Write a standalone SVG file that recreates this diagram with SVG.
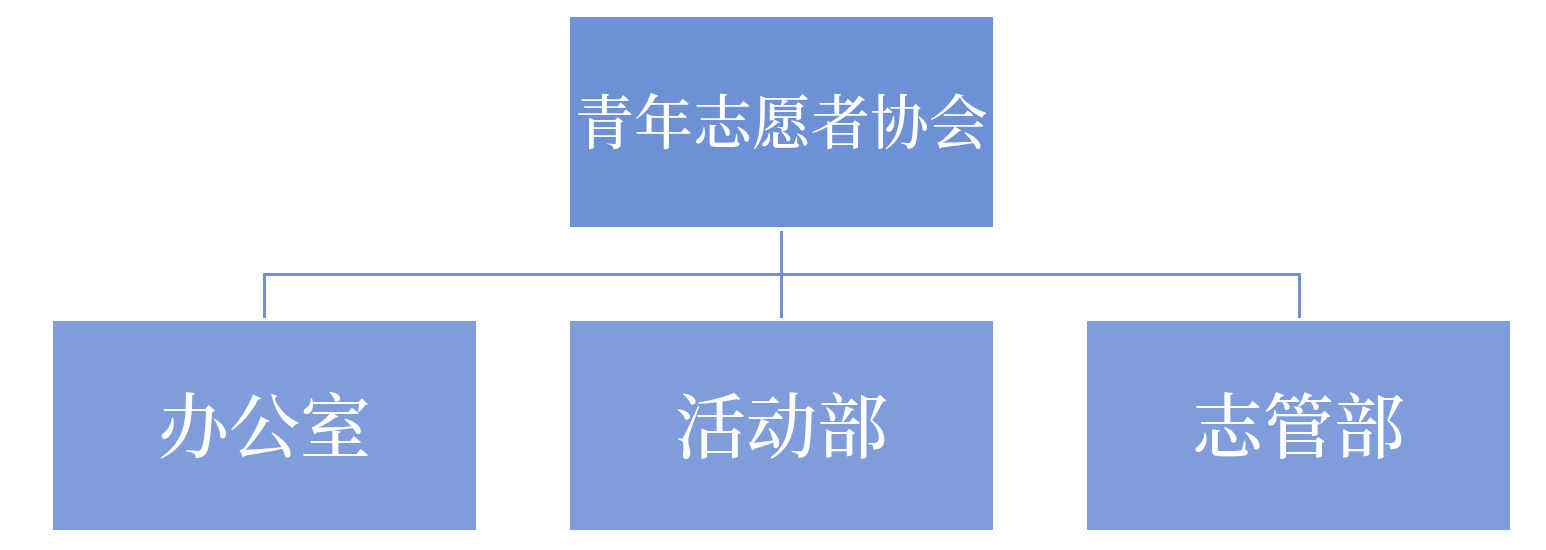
<svg xmlns="http://www.w3.org/2000/svg" width="1546" height="550" viewBox="0 0 1546 550">
<style>
.top{fill:#6E90D5}
.box{fill:#7F9DDB}
.lbl{fill:#FFFFFF;font-family:"Noto Serif CJK SC","Noto Sans CJK SC","Liberation Serif",serif;font-weight:500;text-anchor:middle;dominant-baseline:central}
.conn{stroke:#7190D0;stroke-width:3;fill:none}
</style>
<rect width="1546" height="550" fill="#FFFFFF"/>
<g id="connectors">
<line class="conn" x1="781.5" y1="231" x2="781.5" y2="318"/>
<polyline class="conn" points="264.5,318 264.5,274.5 1299.5,274.5 1299.5,318"/>
</g>
<g id="node-root">
<rect class="top" x="570" y="17" width="423" height="210"/>
<text class="lbl" x="781.5" y="118" font-size="59">青年志愿者协会</text>
</g>
<g id="node-office">
<rect class="box" x="53" y="321" width="423" height="209"/>
<text class="lbl" x="264.5" y="421" font-size="71">办公室</text>
</g>
<g id="node-activity">
<rect class="box" x="570" y="321" width="423" height="209"/>
<text class="lbl" x="781.5" y="421" font-size="71">活动部</text>
</g>
<g id="node-volunteer">
<rect class="box" x="1087" y="321" width="423" height="209"/>
<text class="lbl" x="1298.5" y="421" font-size="71">志管部</text>
</g>
</svg>
